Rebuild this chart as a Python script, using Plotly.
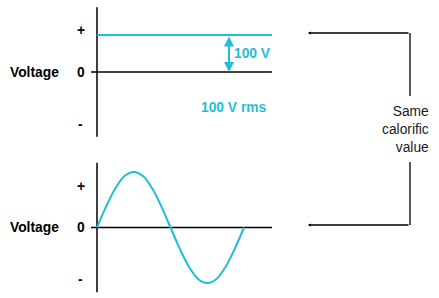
import plotly.graph_objects as go

# ---- data (volts, time in periods) ----
dc_level = 100            # top panel: 100 V DC
sine_t = [i / 16 for i in range(17)]
sine_v = [0, 57, 106, 139, 150, 139, 106, 57, 0, -57, -106, -139, -150, -139, -106, -57, 0]
axis_extent = [175, -175]  # vertical axis line span (V)
zero_span = [-0.041, 1.19] # zero line span (periods)
ytick_vals = [111, 0, -141]
ytick_text = ["+", "0", "-"]

TEAL = "#1EBED8"
BLACK = "#000000"
FONT = "Liberation Sans, Arial, sans-serif"
FS = 13.8

fig = go.Figure()

for ya in ["y", "y2"]:
    fig.add_trace(go.Scatter(x=[0, 0], y=axis_extent, mode="lines",
                             line=dict(color=BLACK, width=1.5), yaxis=ya,
                             hoverinfo="skip", showlegend=False))
    fig.add_trace(go.Scatter(x=zero_span, y=[0, 0], mode="lines",
                             line=dict(color=BLACK, width=1.5), yaxis=ya,
                             hoverinfo="skip", showlegend=False))

fig.add_trace(go.Scatter(x=[0, zero_span[1]], y=[dc_level, dc_level], mode="lines",
                         line=dict(color=TEAL, width=2), yaxis="y", showlegend=False))
fig.add_trace(go.Scatter(x=sine_t, y=sine_v, mode="lines",
                         line=dict(color=TEAL, width=2, shape="spline"),
                         yaxis="y2", showlegend=False))

ann = []
for yref in ["y", "y2"]:
    ann.append(dict(x=-0.422, y=0, xref="x", yref=yref, text="<b>Voltage</b>",
                    showarrow=False, font=dict(family=FONT, size=FS, color=BLACK)))
    for v, t in zip(ytick_vals, ytick_text):
        ann.append(dict(x=-0.112, y=v, xref="x", yref=yref, text="<b>%s</b>" % t,
                        showarrow=False, font=dict(family=FONT, size=FS, color=BLACK)))

ann.append(dict(x=0.898, y=0, xref="x", yref="y", ax=0.898, ay=dc_level,
                axref="x", ayref="y", text="", showarrow=True,
                arrowhead=2, startarrowhead=2, arrowside="end+start",
                arrowsize=1, arrowwidth=2, arrowcolor=TEAL, standoff=0, startstandoff=0))
ann.append(dict(x=0.92, y=51, xref="x", yref="y", text="<b>100 V</b>", xanchor="left",
                showarrow=False, font=dict(family=FONT, size=FS, color=TEAL)))
ann.append(dict(x=0.695, y=-97, xref="x", yref="y", text="<b>100 V rms</b>", xanchor="left",
                showarrow=False, font=dict(family=FONT, size=FS, color=TEAL)))

W, H = 439, 298
for ypx in [33, 225]:
    ann.append(dict(x=308 / W, y=1 - ypx / H, xref="paper", yref="paper",
                    ax=102, ay=0, text="", showarrow=True, arrowhead=2,
                    arrowsize=0.45, arrowwidth=1.3, arrowcolor=BLACK, standoff=0))
ann.append(dict(x=431 / W, y=1 - 129 / H, xref="paper", yref="paper",
                text="Same<br>calorific<br>value", xanchor="right", align="right",
                showarrow=False, font=dict(family=FONT, size=FS, color="#1a1a1a")))

shapes = [
    dict(type="line", xref="paper", yref="paper", x0=410 / W, x1=410 / W,
         y0=1 - 33 / H, y1=1 - 96 / H, line=dict(color=BLACK, width=1.3)),
    dict(type="line", xref="paper", yref="paper", x0=410 / W, x1=410 / W,
         y0=1 - 162 / H, y1=1 - 225 / H, line=dict(color=BLACK, width=1.3)),
]

s = 0.37  # px per volt
fig.update_layout(
    width=W, height=H, margin=dict(l=0, r=0, t=0, b=0),
    paper_bgcolor="white", plot_bgcolor="white",
    xaxis=dict(range=[-97 / 147, (W - 97) / 147], visible=False, fixedrange=True),
    yaxis=dict(domain=[0.5, 1], range=[-(149 - 72) / s, 72 / s], visible=False),
    yaxis2=dict(domain=[0, 0.5], range=[-(298 - 227.5) / s, (227.5 - 149) / s], visible=False),
    annotations=ann, shapes=shapes, showlegend=False,
)

fig.write_html("out.html")
